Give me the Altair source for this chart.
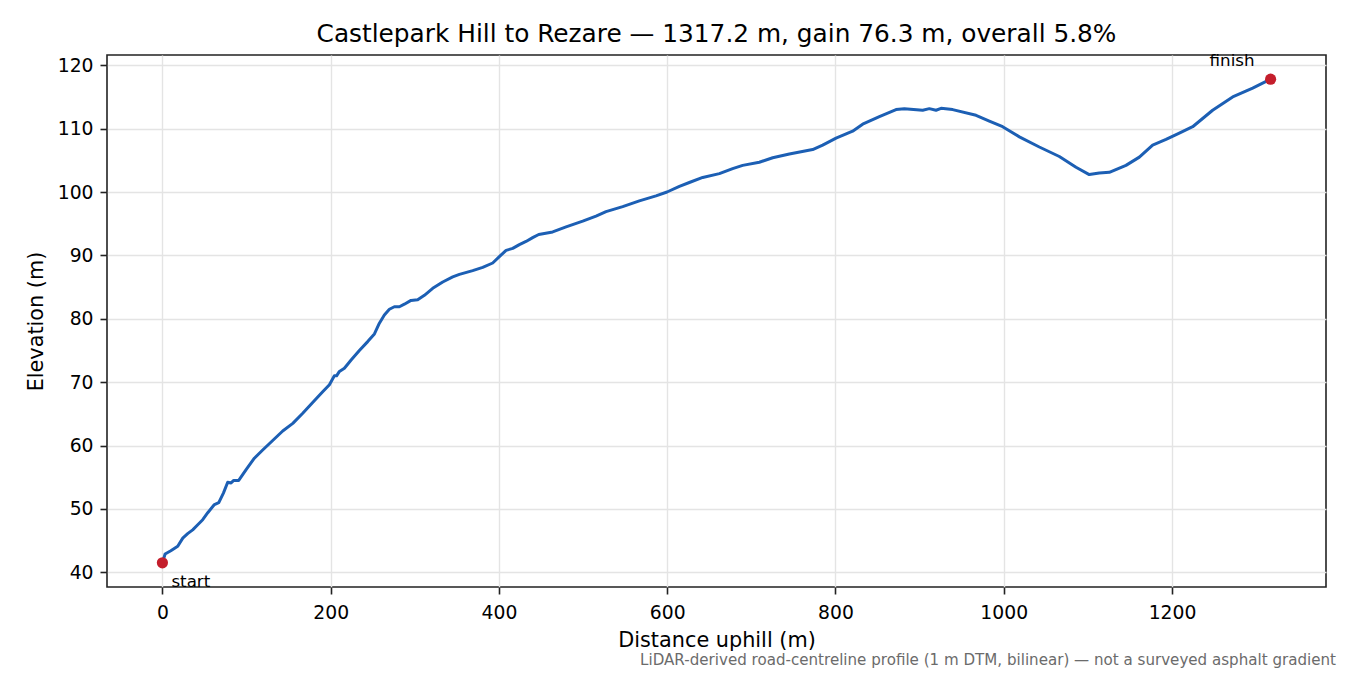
import altair as alt
import pandas as pd

# ---- data ----
distance_m = [0, 3.2, 10, 18.2, 24.2, 30, 36, 42, 47.9, 53.9, 61.8, 67, 72.5, 77.6, 81.6, 84.8,
              90.7, 99.5, 109.3, 119.2, 131.1, 143, 155, 166.8, 178.6, 190.5, 198.5, 204.4, 207,
              210.4, 216.3, 224.3, 234.1, 244, 252, 257.9, 263.8, 269.8, 275.7, 281.7, 287.6,
              295.5, 303.4, 311.4, 321.3, 333.2, 345.1, 353, 368.8, 380.7, 392.6, 400.5, 408.5,
              416.4, 424.3, 432.2, 440.1, 447.3, 463.9, 479.8, 499.6, 515.4, 527.3, 547.1, 566.9,
              586.7, 599.8, 614.5, 626.3, 642.2, 662, 677.8, 689.7, 709.5, 725.4, 745.2, 772.9,
              784.8, 800.7, 820.4, 832.3, 852.2, 872, 881.9, 903.7, 911.6, 919.5, 925.5, 939.3,
              967.1, 982.9, 998.7, 1018.6, 1042.3, 1066.1, 1085.9, 1101.7, 1113.6, 1125.5, 1145.3,
              1161.2, 1177, 1192.9, 1208.7, 1224.6, 1248.3, 1272.1, 1295.9, 1317.2]
elevation_m = [41.5, 42.9, 43.4, 44.1, 45.4, 46.1, 46.7, 47.5, 48.3, 49.4, 50.7, 51.0, 52.5, 54.2,
               54.1, 54.5, 54.5, 56.2, 58.0, 59.3, 60.8, 62.3, 63.5, 65.1, 66.8, 68.5, 69.6, 71.0,
               71.0, 71.7, 72.2, 73.5, 75.0, 76.4, 77.6, 79.3, 80.6, 81.5, 81.9, 81.9, 82.3, 82.9,
               83.0, 83.7, 84.8, 85.8, 86.6, 87.0, 87.6, 88.1, 88.8, 89.8, 90.8, 91.1, 91.7, 92.2,
               92.8, 93.3, 93.7, 94.5, 95.4, 96.2, 96.9, 97.7, 98.6, 99.4, 100.0, 100.9, 101.5,
               102.3, 102.9, 103.7, 104.2, 104.7, 105.4, 106.0, 106.7, 107.4, 108.5, 109.6, 110.7,
               111.9, 113.0, 113.15, 112.9, 113.15, 112.9, 113.2, 113.0, 112.1, 111.2, 110.3,
               108.7, 107.1, 105.6, 103.9, 102.75, 103.0, 103.1, 104.2, 105.5, 107.4, 108.3,
               109.3, 110.3, 112.9, 115.0, 116.4, 117.8]

end_labels = ["start", "finish"]
end_distance = [0, 1317.2]
end_elevation = [41.5, 117.8]

x_ticks = [0, 200, 400, 600, 800, 1000, 1200]
y_ticks = [40, 50, 60, 70, 80, 90, 100, 110, 120]

title_text = "Castlepark Hill to Rezare \u2014 1317.2 m, gain 76.3 m, overall 5.8%"
note_text = ("LiDAR-derived road-centreline profile (1 m DTM, bilinear) \u2014 "
             "not a surveyed asphalt gradient")

x_domain = [-65.86, 1383.06]
y_domain = [37.685, 121.615]

FONT = "DejaVu Sans"
BLUE = "#1c5fb4"
RED = "#c41e2c"
INK = "#222222"

profile = pd.DataFrame({"distance": distance_m, "elevation": elevation_m})
ends = pd.DataFrame({"label": end_labels, "distance": end_distance, "elevation": end_elevation})

x_scale = alt.Scale(domain=x_domain, nice=False, zero=False)
y_scale = alt.Scale(domain=y_domain, nice=False, zero=False)

x_axis = alt.Axis(values=x_ticks, format="d", title="Distance uphill (m)",
                  grid=True, gridColor="#e4e4e4", gridWidth=1.4,
                  domain=False, tickColor=INK, tickWidth=1.6, tickSize=7,
                  labelFont=FONT, labelFontSize=18.75, labelColor="#000000",
                  labelBaseline="alphabetic", labelPadding=24, labelFlush=False,
                  titleFont=FONT, titleFontSize=20.8, titleFontWeight="normal",
                  titleColor="#000000", titleBaseline="alphabetic",
                  titleX=609.5, titleY=59, titleAlign="center")
y_axis = alt.Axis(values=y_ticks, format="d", title="Elevation (m)",
                  grid=True, gridColor="#e4e4e4", gridWidth=1.4,
                  domain=False, tickColor=INK, tickWidth=1.6, tickSize=7,
                  labelFont=FONT, labelFontSize=18.75, labelColor="#000000",
                  labelBaseline="middle", labelPadding=7, labelFlush=False,
                  titleFont=FONT, titleFontSize=20.8, titleFontWeight="normal",
                  titleColor="#000000", titleBaseline="alphabetic",
                  titleAngle=270, titleX=-65, titleY=266, titleAlign="center")

line = alt.Chart(profile).mark_line(color=BLUE, strokeWidth=3, strokeJoin="round").encode(
    x=alt.X("distance:Q", scale=x_scale, axis=x_axis),
    y=alt.Y("elevation:Q", scale=y_scale, axis=y_axis),
    order="distance:Q",
)

dots = alt.Chart(ends).mark_circle(color=RED, size=125, opacity=1).encode(
    x=alt.X("distance:Q", scale=x_scale),
    y=alt.Y("elevation:Q", scale=y_scale),
)

start_lbl = alt.Chart(ends).transform_filter(alt.datum.label == "start").mark_text(
    font=FONT, fontSize=16.7, color="#000000", align="left", baseline="alphabetic",
    dx=9, dy=24,
).encode(x=alt.X("distance:Q", scale=x_scale), y=alt.Y("elevation:Q", scale=y_scale),
         text="label:N")

finish_lbl = alt.Chart(ends).transform_filter(alt.datum.label == "finish").mark_text(
    font=FONT, fontSize=16.7, color="#000000", align="right", baseline="alphabetic",
    dx=-16, dy=-13,
).encode(x=alt.X("distance:Q", scale=x_scale), y=alt.Y("elevation:Q", scale=y_scale),
         text="label:N")

title = alt.Chart(pd.DataFrame({"t": [title_text]})).mark_text(
    font=FONT, fontSize=24.8, color="#000000", align="center", baseline="alphabetic",
).encode(x=alt.value(609.5), y=alt.value(-13), text="t:N")

note = alt.Chart(pd.DataFrame({"t": [note_text]})).mark_text(
    font=FONT, fontSize=15.1, color="#6b6b6b", align="right", baseline="alphabetic",
).encode(x=alt.value(1229), y=alt.value(610), text="t:N")

chart = alt.layer(line, dots, start_lbl, finish_lbl, title, note).properties(
    width=1219, height=532,
    padding={"left": 99, "top": 47, "right": 12, "bottom": 83},
    autosize=alt.AutoSizeParams(type="none"),
    background="white",
).configure_view(stroke=INK, strokeWidth=1.6)

chart.save("out.html", embed_options={"renderer": "svg", "actions": False})
